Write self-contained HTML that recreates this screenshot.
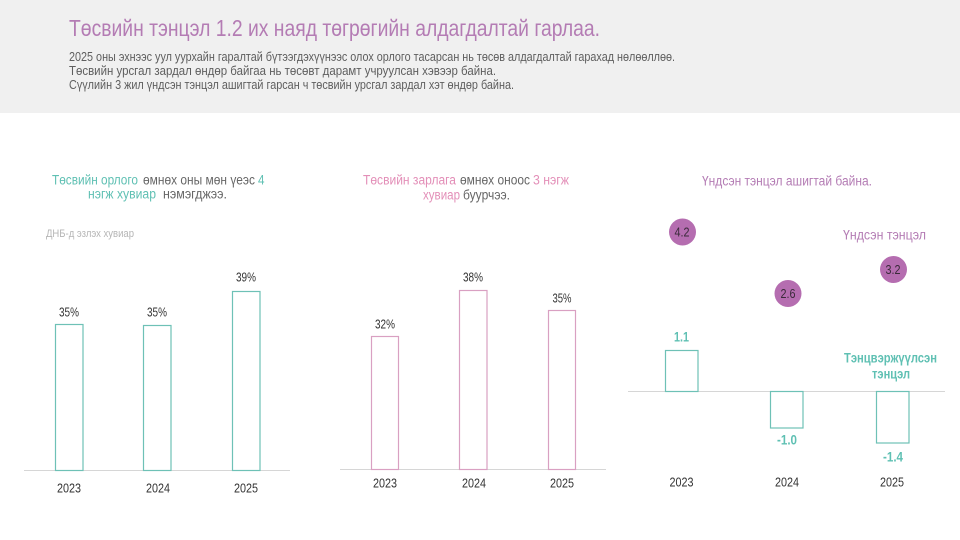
<!DOCTYPE html>
<html><head><meta charset="utf-8"><style>
html,body{margin:0;padding:0;background:#fff;}
svg{display:block;font-family:"Liberation Sans Narrow","Liberation Sans",sans-serif;}
</style></head><body>
<svg width="960" height="540" viewBox="0 0 960 540" xmlns="http://www.w3.org/2000/svg">
<rect x="0" y="0" width="960" height="113" fill="#f0f0f0"/>
<text x="69" y="36" font-size="23" fill="#b47cb4" textLength="531" lengthAdjust="spacingAndGlyphs">Төсвийн тэнцэл 1.2  их наяд төгрөгийн алдагдалтай гарлаа.</text>
<g font-size="13" fill="#5e5e5e">
<text x="69" y="61" textLength="606" lengthAdjust="spacingAndGlyphs">2025 оны эхнээс уул уурхайн гаралтай бүтээгдэхүүнээс олох орлого тасарсан нь төсөв алдагдалтай гарахад нөлөөллөө.</text>
<text x="69" y="75" textLength="427" lengthAdjust="spacingAndGlyphs">Төсвийн урсгал зардал өндөр байгаа нь төсөвт дарамт учруулсан хэвээр байна.</text>
<text x="69" y="89" textLength="445" lengthAdjust="spacingAndGlyphs">Сүүлийн 3 жил үндсэн тэнцэл ашигтай гарсан ч төсвийн урсгал зардал хэт өндөр байна.</text>
</g>

<!-- Chart 1 -->
<g font-size="13.5">
<text x="52" y="184.5" fill="#5fc0b3" textLength="86" lengthAdjust="spacingAndGlyphs">Төсвийн орлого</text>
<text x="143" y="184.5" fill="#666" textLength="112" lengthAdjust="spacingAndGlyphs">өмнөх оны мөн үеэс</text>
<text x="258" y="184.5" fill="#5fc0b3" textLength="6.5" lengthAdjust="spacingAndGlyphs">4</text>
<text x="88" y="198.5" fill="#5fc0b3" textLength="68" lengthAdjust="spacingAndGlyphs">нэгж хувиар</text>
<text x="163" y="198.5" fill="#666" textLength="64" lengthAdjust="spacingAndGlyphs">нэмэгджээ.</text>
</g>
<text x="46" y="237" font-size="11" fill="#b5b5b5" textLength="88" lengthAdjust="spacingAndGlyphs">ДНБ-д эзлэх хувиар</text>
<line x1="24" y1="470.5" x2="290" y2="470.5" stroke="#d6d6d6" stroke-width="1"/>
<g fill="#fff" stroke="#6ec1b6" stroke-width="1.2">
<rect x="55.5" y="324.5" width="27.5" height="146"/>
<rect x="143.5" y="325.5" width="27.5" height="145"/>
<rect x="232.5" y="291.5" width="27.5" height="179"/>
</g>
<g font-size="13" fill="#333" text-anchor="middle">
<text x="69" y="316.5" textLength="20" lengthAdjust="spacingAndGlyphs">35%</text>
<text x="157" y="316.5" textLength="20" lengthAdjust="spacingAndGlyphs">35%</text>
<text x="246" y="281.5" textLength="20" lengthAdjust="spacingAndGlyphs">39%</text>
<text x="69" y="492.5" textLength="24" lengthAdjust="spacingAndGlyphs">2023</text>
<text x="158" y="492.5" textLength="24" lengthAdjust="spacingAndGlyphs">2024</text>
<text x="246" y="492.5" textLength="24" lengthAdjust="spacingAndGlyphs">2025</text>
</g>

<!-- Chart 2 -->
<g font-size="13.5">
<text x="363" y="184.5" fill="#e38fb8" textLength="93" lengthAdjust="spacingAndGlyphs">Төсвийн зарлага</text>
<text x="460" y="184.5" fill="#666" textLength="70" lengthAdjust="spacingAndGlyphs">өмнөх оноос</text>
<text x="533" y="184.5" fill="#e38fb8" textLength="36" lengthAdjust="spacingAndGlyphs">3 нэгж</text>
<text x="423" y="199.5" fill="#e38fb8" textLength="37" lengthAdjust="spacingAndGlyphs">хувиар</text>
<text x="463" y="199.5" fill="#666" textLength="47" lengthAdjust="spacingAndGlyphs">буурчээ.</text>
</g>
<line x1="340" y1="469.5" x2="606" y2="469.5" stroke="#d6d6d6" stroke-width="1"/>
<g fill="#fff" stroke="#d9a0c2" stroke-width="1.2">
<rect x="371.5" y="336.5" width="27" height="133"/>
<rect x="459.5" y="290.5" width="27.5" height="179"/>
<rect x="548.5" y="310.5" width="27" height="159"/>
</g>
<g font-size="13" fill="#333" text-anchor="middle">
<text x="385" y="328.5" textLength="20" lengthAdjust="spacingAndGlyphs">32%</text>
<text x="473" y="281.5" textLength="20" lengthAdjust="spacingAndGlyphs">38%</text>
<text x="562" y="302.5" textLength="19" lengthAdjust="spacingAndGlyphs">35%</text>
<text x="385" y="487.5" textLength="24" lengthAdjust="spacingAndGlyphs">2023</text>
<text x="474" y="487.5" textLength="24" lengthAdjust="spacingAndGlyphs">2024</text>
<text x="562" y="487.5" textLength="24" lengthAdjust="spacingAndGlyphs">2025</text>
</g>

<!-- Chart 3 -->
<text x="702" y="185.5" font-size="13.5" fill="#b47cb4" textLength="170" lengthAdjust="spacingAndGlyphs">Үндсэн тэнцэл ашигтай байна.</text>
<text x="843" y="239.5" font-size="13.5" fill="#b47cb4" textLength="83" lengthAdjust="spacingAndGlyphs">Үндсэн тэнцэл</text>
<line x1="628" y1="391.5" x2="945" y2="391.5" stroke="#d6d6d6" stroke-width="1"/>
<g fill="#fff" stroke="#6ec1b6" stroke-width="1.2">
<rect x="665.5" y="350.5" width="32.5" height="41"/>
<rect x="770.5" y="391.5" width="32.5" height="36.5"/>
<rect x="876.5" y="391.5" width="32.5" height="51.5"/>
</g>
<g fill="#b56db0">
<circle cx="682.5" cy="232" r="13.5"/>
<circle cx="788" cy="293.5" r="13.5"/>
<circle cx="893.5" cy="269.5" r="13.5"/>
</g>
<g font-size="12.5" fill="#3a2a3a" text-anchor="middle">
<text x="682" y="236.5" textLength="15" lengthAdjust="spacingAndGlyphs">4.2</text>
<text x="788" y="298" textLength="15" lengthAdjust="spacingAndGlyphs">2.6</text>
<text x="893" y="274" textLength="15" lengthAdjust="spacingAndGlyphs">3.2</text>
</g>
<g font-size="13.5" font-weight="bold" fill="#5fc0b3" text-anchor="middle">
<text x="681.5" y="341.5" textLength="15" lengthAdjust="spacingAndGlyphs">1.1</text>
<text x="787" y="444.5" textLength="20" lengthAdjust="spacingAndGlyphs">-1.0</text>
<text x="893" y="461.5" textLength="20" lengthAdjust="spacingAndGlyphs">-1.4</text>
<text x="890.5" y="362.5" textLength="93" lengthAdjust="spacingAndGlyphs">Тэнцвэржүүлсэн</text>
<text x="891" y="378.5" textLength="38" lengthAdjust="spacingAndGlyphs">тэнцэл</text>
</g>
<g font-size="13" fill="#333" text-anchor="middle">
<text x="681.5" y="486.5" textLength="24" lengthAdjust="spacingAndGlyphs">2023</text>
<text x="787" y="486.5" textLength="24" lengthAdjust="spacingAndGlyphs">2024</text>
<text x="892" y="486.5" textLength="24" lengthAdjust="spacingAndGlyphs">2025</text>
</g>
</svg>
</body></html>
